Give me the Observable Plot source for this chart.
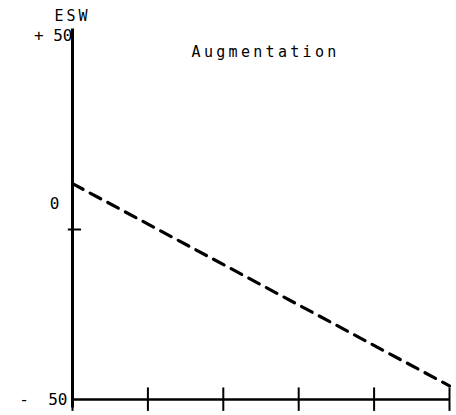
<!DOCTYPE html>
<html>
<head>
<meta charset="utf-8">
<script src="https://cdn.jsdelivr.net/npm/d3@7"></script>
<script src="https://cdn.jsdelivr.net/npm/@observablehq/plot@0.6"></script>
<style>
  html, body { margin: 0; padding: 0; background: #fff; }
  svg { display: block; }
</style>
</head>
<body>
<div id="chart"></div>
<script>
// Data
const xTicks = [0, 1, 2, 3, 4, 5];
const lineX = [0, 5];
const lineY = [13.5, -46];
const yTickValues = [50, 0, -50];
const yTickLabels = ["+ 50", "0", "-  50"];
const yAxisTitle = "ESW";
const chartTitle = "Augmentation";

const lineData = lineX.map((x, i) => ({x, y: lineY[i]}));
const labels = yTickValues.map((v, i) => ({v, t: yTickLabels[i]}));

const font = "'DejaVu Sans Mono', monospace";

const plot = Plot.plot({
  width: 456,
  height: 415,
  marginLeft: 72,
  marginRight: 7,
  marginTop: 25,
  marginBottom: 16,
  x: {domain: [0, 5], axis: null},
  y: {domain: [-50, 60], axis: null},
  style: {fontFamily: font, fontSize: "16px", background: "#fff", color: "#000"},
  marks: [
    // x axis line
    Plot.ruleY([-50], {x1: 0, x2: 5, stroke: "#000", strokeWidth: 2.5}),
    // x ticks (cross ticks)
    Plot.ruleX(xTicks, {x: d => d, y1: -53.5, y2: -46.6, stroke: "#000", strokeWidth: 2}),
    // y axis line
    Plot.ruleX([0], {y1: -52.5, y2: 59, stroke: "#000", strokeWidth: 3}),
    // y tick at 0
    Plot.ruleY([0], {x1: -0.055, x2: 0.12, stroke: "#000", strokeWidth: 2}),
    // dashed line
    Plot.line(lineData, {x: "x", y: "y", stroke: "#000", strokeWidth: 3.2, strokeDasharray: "12,8"}),
    // y tick labels
    Plot.text(labels.filter(d => d.v === 50), {x: 0, y: "v", text: "t", textAnchor: "end", dx: 0, dy: -24, fill: "#000", fontSize: 16}),
    Plot.text(labels.filter(d => d.v === 0), {x: 0, y: "v", text: "t", textAnchor: "end", dx: -13, dy: -26, fill: "#000", fontSize: 16}),
    Plot.text(labels.filter(d => d.v === -50), {x: 0, y: "v", text: "t", textAnchor: "end", dx: -5, dy: 0, fill: "#000", fontSize: 16}),
    // y axis title
    Plot.text([yAxisTitle], {frameAnchor: "top-left", dx: 0, dy: -15, textAnchor: "middle", fill: "#000", fontSize: 15}),
    // chart title
    Plot.text([chartTitle], {frameAnchor: "top", dx: 4.6, dy: 21, fill: "#000", fontSize: 15})
  ]
});
d3.select(plot).selectAll("text")
  .filter(function() { return this.textContent === chartTitle; })
  .style("letter-spacing", "3.3px");
d3.select(plot).selectAll("text")
  .filter(function() { return this.textContent === yAxisTitle; })
  .style("letter-spacing", "3px");
document.getElementById("chart").appendChild(plot);
</script>
</body>
</html>
